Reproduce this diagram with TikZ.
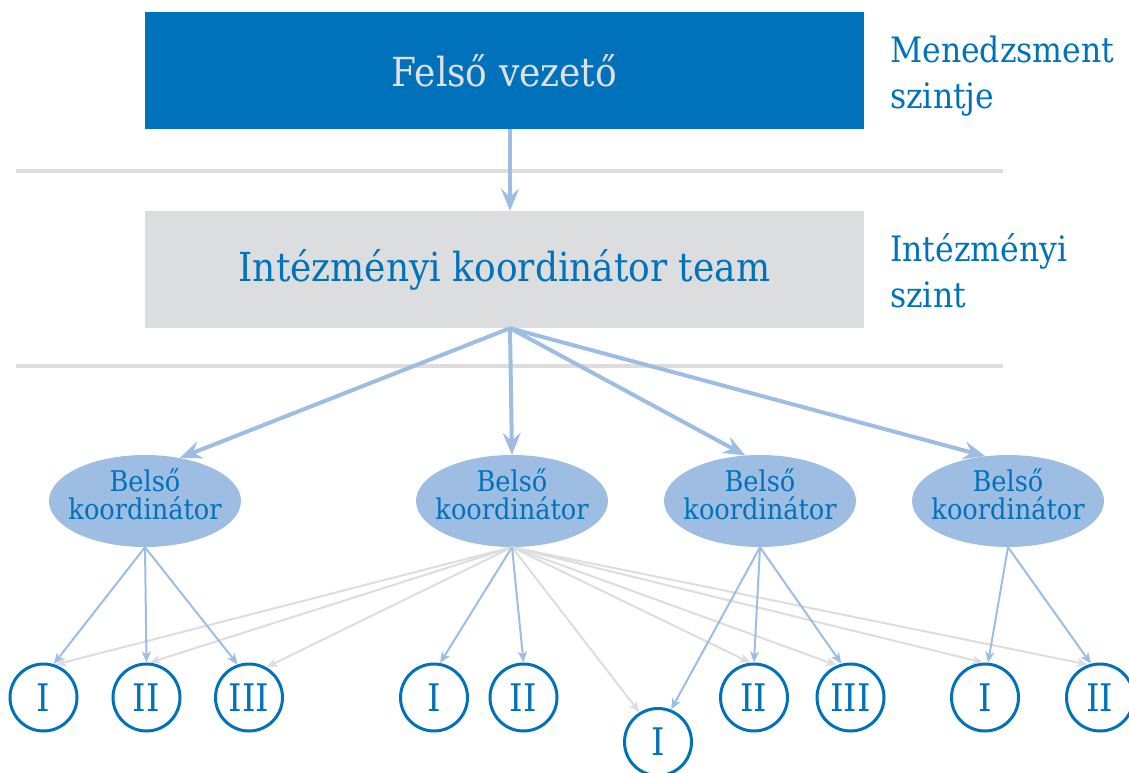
\documentclass[tikz,border=0pt]{standalone}
\usepackage{fontspec}
\setmainfont{DejaVu Serif Condensed}
\usetikzlibrary{arrows.meta,shapes.geometric,calc}
\definecolor{deepblue}{RGB}{0,114,187}
\definecolor{paleblue}{RGB}{158,189,227}
\definecolor{boxgray}{RGB}{220,221,223}
\definecolor{linegray}{RGB}{221,221,221}
\definecolor{softtext}{RGB}{224,224,224}
\tikzset{
    levelbox/.style={minimum width=719pt, minimum height=117pt, inner sep=0pt,
        font=\fontsize{40}{44}\selectfont},
    levellabel/.style={anchor=north west, align=left, inner sep=0pt, text=deepblue,
        font=\fontsize{35}{46}\selectfont},
    coordell/.style={ellipse, fill=paleblue, minimum width=192pt, minimum height=92pt,
        inner xsep=-30pt, inner ysep=-20pt, text depth=14pt, align=center, text=deepblue,
        font=\fontsize{28.5}{28}\selectfont},
    unitcirc/.style={circle, draw=deepblue, line width=3pt, minimum size=67pt,
        inner sep=0pt, text=deepblue, font=\fontsize{38}{38}\selectfont},
    bigarrow/.style={-{Stealth[length=22pt, width=18pt, inset=8pt]}, line width=4pt, paleblue},
    smallarrow/.style={-{Stealth[length=11pt, width=9pt, inset=3pt]}, line width=2pt, paleblue},
    grayarrow/.style={smallarrow, linegray},
    sepline/.style={line width=4pt, linegray}
}

\begin{document}
\begin{tikzpicture}[x=1pt, y=-1pt]
\useasboundingbox (0,0) rectangle (1129,773);
% levels
\draw[sepline] (16,171) -- (1003,171);
\draw[sepline] (16,366) -- (1003,366);
\node[levelbox, fill=deepblue, text=softtext] (top) at (504.5,70.5) {Felső vezető};
\node[levelbox, fill=boxgray, text=deepblue] (team) at (504.5,269.5) {Intézményi koordinátor team};
\node[levellabel] (mgmt) at (890,36) {Menedzsment\\szintje};
\node[levellabel] (inst) at (890,233) {Intézményi\\szint};
% coordinators
\node[coordell] (e1) at (145,501) {Belső\\koordinátor};
\node[coordell] (e2) at (512,501) {Belső\\koordinátor};
\node[coordell] (e3) at (760,501) {Belső\\koordinátor};
\node[coordell] (e4) at (1008,501) {Belső\\koordinátor};
% units
\node[unitcirc] (c1a) at (43.5,697.5) {I};
\node[unitcirc] (c1b) at (146.5,697.5) {II};
\node[unitcirc] (c1c) at (249,697.5) {III};
\node[unitcirc] (c2a) at (434,697.5) {I};
\node[unitcirc] (c2b) at (523.5,697.5) {II};
\node[unitcirc] (c2c) at (658,742) {I};
\node[unitcirc] (c3a) at (754,697.5) {II};
\node[unitcirc] (c3b) at (850.5,697.5) {III};
\node[unitcirc] (c4a) at (985,697.5) {I};
\node[unitcirc] (c4b) at (1100,697.5) {II};
% upper arrows
\draw[bigarrow] ($(top.south)+(5.5,0)$) -- ($(team.north)+(5.5,0)$);
\draw[bigarrow] ($(team.south)+(5.5,0)$) -- (e1.51);
\draw[bigarrow] ($(team.south)+(5.5,0)$) -- (e2.north);
\draw[bigarrow] ($(team.south)+(5.5,0)$) -- (e3.108);
\draw[bigarrow] ($(team.south)+(5.5,0)$) -- (e4.117);
% cross links
\draw[grayarrow] (e2.south) -- (c1a.70);
\draw[grayarrow] (e2.south) -- (c1b.85);
\draw[grayarrow] (e2.south) -- (c1c.60);
\draw[grayarrow] (e2.south) -- (c2c.122);
\draw[grayarrow] (e2.south) -- (c3a.96);
\draw[grayarrow] (e2.south) -- (c3b.113);
\draw[grayarrow] (e2.south) -- (c4a.93);
\draw[grayarrow] (e2.south) -- (c4b.110);
% own links
\draw[smallarrow] (e1.south) -- (c1a.73);
\draw[smallarrow] (e1.south) -- (c1b.north);
\draw[smallarrow] (e1.south) -- (c1c.109);
\draw[smallarrow] (e2.south) -- (c2a.80);
\draw[smallarrow] (e2.south) -- (c2b.north);
\draw[smallarrow] (e3.south) -- (c2c.68);
\draw[smallarrow] (e3.south) -- (c3a.north);
\draw[smallarrow] (e3.south) -- (c3b.105);
\draw[smallarrow] (e4.south) -- (c4a.85);
\draw[smallarrow] (e4.south) -- (c4b.105);
\end{tikzpicture}
\end{document}
